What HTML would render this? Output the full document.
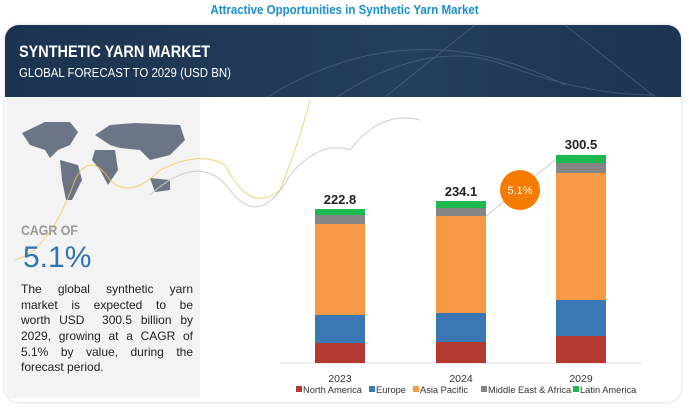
<!DOCTYPE html>
<html><head><style>
body{margin:0;width:689px;height:408px;background:#fff;position:relative;overflow:hidden;font-family:"Liberation Sans",sans-serif}
.a{position:absolute}
.j{text-align:justify;text-align-last:justify;height:15.7px}
</style></head><body>
<div class="a" style="left:0;width:689px;top:3px;text-align:center;color:#1a8fd0;font-weight:bold;font-size:12.5px;transform:scaleX(.92)">Attractive Opportunities in Synthetic Yarn Market</div>
<div class="a" style="left:5px;top:25px;width:676px;height:377px;border-radius:14px;box-shadow:0 0 3px #ccc;background:#fff;overflow:hidden">
 <div class="a" style="left:0;top:0;width:676px;height:72px;background:linear-gradient(90deg,#1c3350,#243e5e 60%,#1d3452)"></div>
 <svg class="a" style="left:0;top:0" width="676" height="72"><g fill="none" stroke="#5a7090" stroke-width="1" opacity=".6"><path d="M250 80 Q400 -20 560 60"/><path d="M320 80 Q420 10 500 40 T650 70"/><path d="M470 0 L380 72"/><path d="M560 0 L650 72"/></g></svg>
 <div class="a" style="left:14px;top:17px;color:#fff;font-weight:bold;font-size:17px;transform:scaleX(.85);transform-origin:left">SYNTHETIC YARN MARKET</div>
 <div class="a" style="left:14px;top:40px;color:#fff;font-size:13px;transform:scaleX(.88);transform-origin:left">GLOBAL FORECAST TO 2029 (USD BN)</div>
 <div class="a" style="left:2px;top:72px;width:193px;height:301px;background:#f3f3f3"></div>
</div>
<svg class="a" style="left:0;top:0" width="689" height="408">
 <g fill="#6b7585"><path d="M22 133 L45 122 L70 122 L78 132 L70 145 L58 150 L50 158 L45 150 L30 145Z"/><path d="M60 160 L78 165 L82 180 L72 200 L66 200 L62 180Z"/><path d="M95 135 L110 125 L135 123 L180 125 L185 140 L170 155 L150 160 L140 150 L120 148 L110 145Z"/><path d="M95 150 L115 150 L118 170 L108 185 L100 170 L92 160Z"/><path d="M150 178 L170 180 L170 190 L155 192Z"/></g>
 <path d="M15 260 Q50 250 75 180 Q90 150 110 180 Q130 200 160 170 Q200 150 225 165 Q250 215 280 190 Q300 140 310 100" fill="none" stroke="#f3c94f" stroke-width="1" opacity=".8"/>
 <path d="M150 195 Q200 150 230 190 Q260 230 290 175 Q320 140 350 150 Q380 110 420 120" fill="none" stroke="#ccc" stroke-width="1"/>
 <line x1="280" y1="363" x2="642" y2="363" stroke="#ddd"/>
 <g>
  <rect x="315" y="343" width="50" height="20" fill="#b43a31"/><rect x="315" y="315" width="50" height="28" fill="#3a78b5"/><rect x="315" y="224" width="50" height="91" fill="#f89a45"/><rect x="315" y="215" width="50" height="9" fill="#858585"/><rect x="315" y="209" width="50" height="6" fill="#1db950"/>
  <rect x="436" y="342" width="50" height="21" fill="#b43a31"/><rect x="436" y="313" width="50" height="29" fill="#3a78b5"/><rect x="436" y="216" width="50" height="97" fill="#f89a45"/><rect x="436" y="208" width="50" height="8" fill="#858585"/><rect x="436" y="201" width="50" height="7" fill="#1db950"/>
  <rect x="556" y="336" width="50" height="27" fill="#b43a31"/><rect x="556" y="300" width="50" height="36" fill="#3a78b5"/><rect x="556" y="173" width="50" height="127" fill="#f89a45"/><rect x="556" y="163" width="50" height="10" fill="#858585"/><rect x="556" y="155" width="50" height="8" fill="#1db950"/>
 </g>
 <line x1="485" y1="217" x2="555" y2="160" stroke="#ccc"/>
 <circle cx="520" cy="190" r="20" fill="#f57c00"/>
 <text x="520" y="194" text-anchor="middle" fill="#fff" font-size="11" font-family="Liberation Sans">5.1%</text>
 <g font-family="Liberation Sans" font-size="13" font-weight="bold" fill="#222" text-anchor="middle"><text x="340" y="204">222.8</text><text x="461" y="196">234.1</text><text x="581" y="149">300.5</text></g>
 <g font-family="Liberation Sans" font-size="10.5" fill="#333" text-anchor="middle"><text x="340" y="382">2023</text><text x="461" y="382">2024</text><text x="581" y="382">2029</text></g>
 <g font-family="Liberation Sans" font-size="9.3" fill="#333">
  <rect x="296" y="386" width="6" height="6" fill="#b43a31"/><text x="303" y="393">North America</text>
  <rect x="369" y="386" width="6" height="6" fill="#3a78b5"/><text x="376" y="393">Europe</text>
  <rect x="413" y="386" width="6" height="6" fill="#f89a45"/><text x="420" y="393">Asia Pacific</text>
  <rect x="481" y="386" width="6" height="6" fill="#858585"/><text x="488" y="393">Middle East &amp; Africa</text>
  <rect x="573" y="386" width="6" height="6" fill="#1db950"/><text x="580" y="393">Latin America</text>
 </g>
</svg>
<div class="a" style="left:21px;top:222px;color:#999;font-weight:bold;font-size:14px;transform:scaleX(.88);transform-origin:left">CAGR OF</div>
<div class="a" style="left:23px;top:241px;color:#2e75b6;font-size:30px">5.1%</div>
<div class="a" style="left:21px;top:282px;width:172px;color:#222;font-size:12px;line-height:15.7px">
<div class="j">The global synthetic yarn</div>
<div class="j">market is expected to be</div>
<div class="j">worth USD &nbsp;300.5 billion by</div>
<div class="j">2029, growing at a CAGR of</div>
<div class="j">5.1% by value, during the</div>
<div>forecast period.</div>
</div>
</body></html>
